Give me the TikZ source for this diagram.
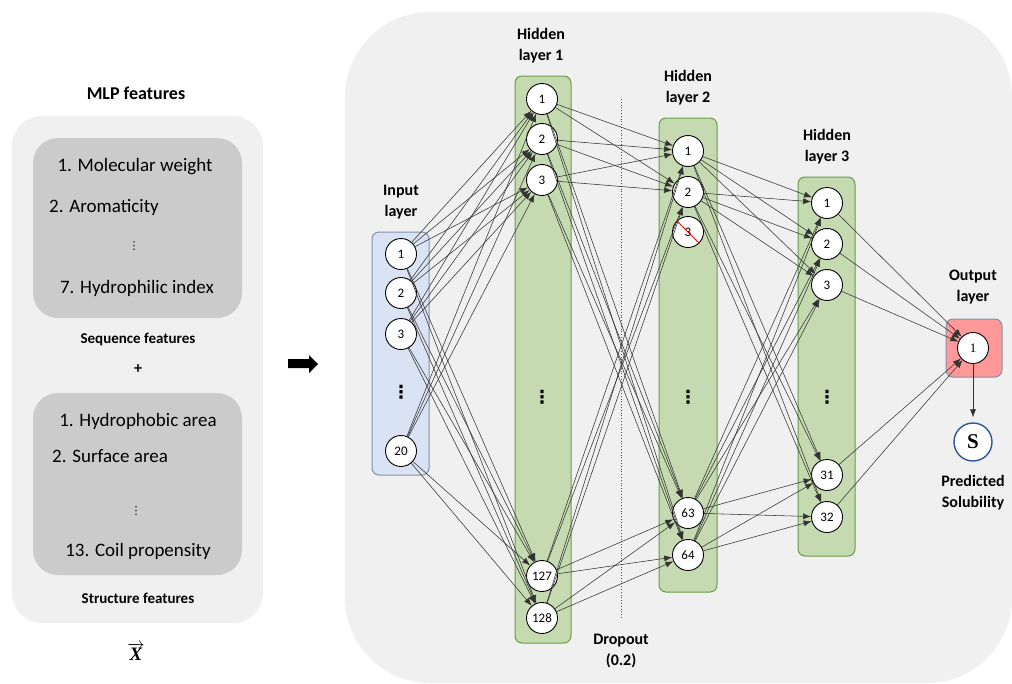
\documentclass[tikz,border=0pt]{standalone}
\usepackage{fontspec}
\setmainfont{Carlito}
\newfontfamily\seriffont{Liberation Serif}
\newfontfamily\symfont{DejaVu Sans}
\usetikzlibrary{arrows.meta}

\definecolor{panelgray}{RGB}{240,240,240}
\definecolor{featgray}{RGB}{203,203,203}
\definecolor{hidgreen}{RGB}{197,218,176}
\definecolor{hidborder}{RGB}{106,156,72}
\definecolor{inblue}{RGB}{218,227,243}
\definecolor{inborder}{RGB}{128,146,172}
\definecolor{outred}{RGB}{255,153,153}
\definecolor{sblue}{RGB}{47,85,151}

\tikzset{
  neuron/.style={circle, draw=black, line width=0.9pt, fill=white,
    minimum size=31pt, inner sep=0pt, font=\fontsize{13}{15}\selectfont},
  layerbox/.style={rounded corners=7pt, line width=1pt},
  title/.style={font=\fontsize{16}{21}\selectfont\bfseries, align=center},
  feat/.style={font=\fontsize{19}{23}\selectfont, inner sep=0pt},
  dots/.style={font=\fontsize{18}{18}\symfont\bfseries, inner sep=0pt},
  conn/.style={-{Latex[length=8pt,width=6pt]}, line width=0.55pt, draw=black!80},
}

\begin{document}
\begin{tikzpicture}[x=1pt,y=-1pt]
  \useasboundingbox[fill=white] (0,0) rectangle (1012,683);

  % left panel: features
  \fill[panelgray, rounded corners=30pt] (12,116) rectangle (263,623);
  \fill[featgray, rounded corners=25pt] (33,138) rectangle (242,318);
  \fill[featgray, rounded corners=25pt] (33,393) rectangle (242,575);
  \node[title, font=\fontsize{18}{20}\selectfont\bfseries] (mlp) at (136,93) {MLP features};
  \node[feat] (seq1) at (135,167) {1. Molecular weight};
  \node[feat, anchor=west] (seq2) at (49,207) {2. Aromaticity};
  \node[feat, font=\fontsize{11}{11}\symfont] (seqdots) at (134,246) {⋮};
  \node[feat] (seq7) at (137,288) {7. Hydrophilic index};
  \node[title, font=\fontsize{15}{18}\selectfont\bfseries] (seqlbl) at (138,339) {Sequence features};
  \node[title] (plus) at (138,369) {+};
  \node[feat] (str1) at (138,421) {1. Hydrophobic area};
  \node[feat, anchor=west] (str2) at (52,456) {2. Surface area};
  \node[feat, font=\fontsize{11}{11}\symfont] (strdots) at (136,511) {⋮};
  \node[feat] (str13) at (138,551) {13. Coil propensity};
  \node[title, font=\fontsize{15}{18}\selectfont\bfseries] (strlbl) at (138,598) {Structure features};
  \node (xvec) at (136,652) {\fontsize{19}{19}\selectfont$\overrightarrow{\mbox{\seriffont\bfseries\itshape X}}$};

  % block arrow
  \fill[black] (288,359) -- (309,359) -- (309,355) -- (318,364) -- (309,373)
    -- (309,368) -- (288,368) -- cycle;

  % right panel: network
  \fill[panelgray, rounded corners=85pt] (345,12) rectangle (1012,683);

  \draw[layerbox, fill=inblue, draw=inborder] (372,232) rectangle (429,475);
  \draw[layerbox, fill=hidgreen, draw=hidborder] (515,76) rectangle (571,643);
  \draw[layerbox, fill=hidgreen, draw=hidborder] (659,118) rectangle (717,592);
  \draw[layerbox, fill=hidgreen, draw=hidborder] (798,177) rectangle (855,556);
  \draw[layerbox, fill=outred, draw=inborder] (946,319) rectangle (1002,377);

  \node[title] (inlbl) at (401,202) {Input\\layer};
  \node[title] (h1lbl) at (541,46) {Hidden\\layer 1};
  \node[title] (h2lbl) at (688,88) {Hidden\\layer 2};
  \node[title] (h3lbl) at (827,147) {Hidden\\layer 3};
  \node[title] (outlbl) at (973,287) {Output\\layer};

  % dropout
  \draw[dotted, line width=0.8pt, black!70] (621,99) -- (621,618);
  \node[title] (droplbl) at (621,651) {Dropout\\(0.2)};

  % neurons
  \foreach \n/\y in {1/254,2/293,3/334,20/451}
    \node[neuron] (in-\n) at (401,\y) {\n};
  \foreach \n/\y in {1/99,2/139,3/180,127/576,128/618}
    \node[neuron] (h1-\n) at (542,\y) {\n};
  \foreach \n/\y in {1/151,2/192,3/232,63/513,64/555}
    \node[neuron] (h2-\n) at (688,\y) {\n};
  \foreach \n/\y in {1/203,2/244,3/285,31/475,32/517}
    \node[neuron] (h3-\n) at (827,\y) {\n};
  \node[neuron, font=\fontsize{13}{15}\seriffont] (out-1) at (973,348) {1};

  \node[dots] (indots) at (401,392) {⋮};
  \node[dots] (h1dots) at (542,397) {⋮};
  \node[dots] (h2dots) at (688,397) {⋮};
  \node[dots] (h3dots) at (827,397) {⋮};

  % dropped neuron
  \draw[red, line width=1pt] (h2-3.north west) -- (h2-3.south east);

  % connections
  \foreach \i in {1,2,3,20}
    \foreach \j in {1,2,3,127,128}
      \draw[conn] (in-\i) -- (h1-\j);
  \foreach \i in {1,2,3,127,128}
    \foreach \j in {1,2,63,64}
      \draw[conn] (h1-\i) -- (h2-\j);
  \foreach \i in {1,2,63,64}
    \foreach \j in {1,2,3,31,32}
      \draw[conn] (h2-\i) -- (h3-\j);
  \foreach \i in {1,2,3,31,32}
    \draw[conn] (h3-\i) -- (out-1);

  % output
  \node[circle, draw=sblue, line width=1.4pt, fill=white, minimum size=38pt,
    inner sep=0pt, font=\fontsize{21}{21}\seriffont\bfseries] (sol) at (973,442) {S};
  \draw[conn, shorten >=5pt] (out-1) -- (sol);
  \node[title] (sollbl) at (973,493) {Predicted\\Solubility};
\end{tikzpicture}
\end{document}
